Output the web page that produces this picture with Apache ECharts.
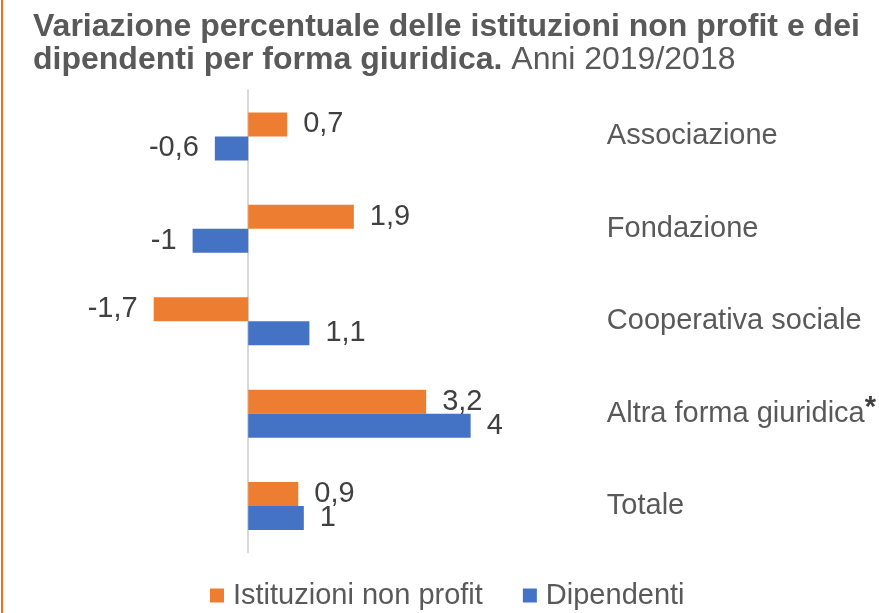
<!DOCTYPE html>
<html>
<head>
<meta charset="utf-8">
<script src="https://cdn.jsdelivr.net/npm/echarts@6/dist/echarts.min.js"></script>
<style>
html,body{margin:0;padding:0;background:#fff;}
#chart{width:879px;height:613px;}
</style>
</head>
<body>
<div id="chart"></div>
<script>
const categories = ['Associazione', 'Fondazione', 'Cooperativa sociale', 'Altra forma giuridica', 'Totale'];
const istituzioni = [0.7, 1.9, -1.7, 3.2, 0.9];
const dipendenti = [-0.6, -1, 1.1, 4, 1];
const seriesNames = ['Istituzioni non profit', 'Dipendenti'];

const LABEL_FONT = '"Liberation Sans", Arial, sans-serif';

function toData(values) {
  return values.map(v => ({
    value: v,
    label: { position: v < 0 ? 'left' : 'right' }
  }));
}

const chart = echarts.init(document.getElementById('chart'), null, { renderer: 'canvas' });

const labelCommon = {
  show: true,
  distance: 16,
  fontSize: 29,
  fontFamily: LABEL_FONT,
  color: '#404040',
  formatter: p => String(p.value).replace('.', ',')
};

chart.setOption({
  animation: false,
  backgroundColor: '#ffffff',
  textStyle: { fontFamily: LABEL_FONT },
  graphic: [{
    type: 'rect',
    left: 1, top: 0,
    shape: { width: 2, height: 613 },
    style: { fill: '#F56D14' }
  }],
  title: {
    left: 28, top: 6,
    text: '{b|Variazione percentuale delle istituzioni non profit e dei}\n{b|dipendenti per forma giuridica.}{n| Anni 2019/2018}',
    textStyle: {
      rich: {
        b: { fontSize: 32, fontWeight: 'bold', color: '#595959', lineHeight: 33, fontFamily: LABEL_FONT },
        n: { fontSize: 32, fontWeight: 'normal', color: '#595959', lineHeight: 33, fontFamily: LABEL_FONT }
      }
    }
  },
  legend: {
    data: seriesNames,
    left: 210, top: 581,
    padding: 0,
    icon: 'rect',
    itemWidth: 14, itemHeight: 14,
    itemGap: 40,
    textStyle: { fontSize: 29, color: '#595959', fontFamily: LABEL_FONT, padding: [0, 0, 0, 4] }
  },
  grid: { left: 81.4, width: 501.3, top: 90.3, height: 461.9, containLabel: false },
  xAxis: {
    type: 'value',
    min: -3, max: 6, interval: 1,
    show: false
  },
  yAxis: [{
    type: 'category',
    data: categories,
    inverse: true,
    position: 'left',
    axisLine: { show: true, onZero: true, lineStyle: { color: '#D9D9D9', width: 2 } },
    axisTick: { show: false },
    axisLabel: { show: false },
    splitLine: { show: false }
  }, {
    type: 'category',
    data: categories,
    inverse: true,
    position: 'right',
    axisLine: { show: false, onZero: false },
    axisTick: { show: false },
    splitLine: { show: false },
    axisLabel: {
      show: true,
      margin: 25,
      align: 'left',
      fontSize: 29,
      color: '#595959',
      fontFamily: LABEL_FONT,
      formatter: v => v === 'Altra forma giuridica' ? '{n|' + v + '}{s|*}' : '{n|' + v + '}',
      rich: {
        n: { fontSize: 29, color: '#595959', fontFamily: LABEL_FONT },
        s: { fontSize: 29, fontWeight: 'bold', color: '#404040', fontFamily: LABEL_FONT, padding: [0, 0, 12, 0] }
      }
    }
  }],
  series: [{
    name: seriesNames[0],
    type: 'bar',
    yAxisIndex: 0,
    data: toData(istituzioni),
    barWidth: 24,
    barGap: '0%',
    itemStyle: { color: '#ED7D31' },
    label: labelCommon
  }, {
    name: seriesNames[1],
    type: 'bar',
    yAxisIndex: 0,
    data: toData(dipendenti),
    barWidth: 24,
    barGap: '0%',
    itemStyle: { color: '#4472C4' },
    label: labelCommon
  }]
});
</script>
</body>
</html>
